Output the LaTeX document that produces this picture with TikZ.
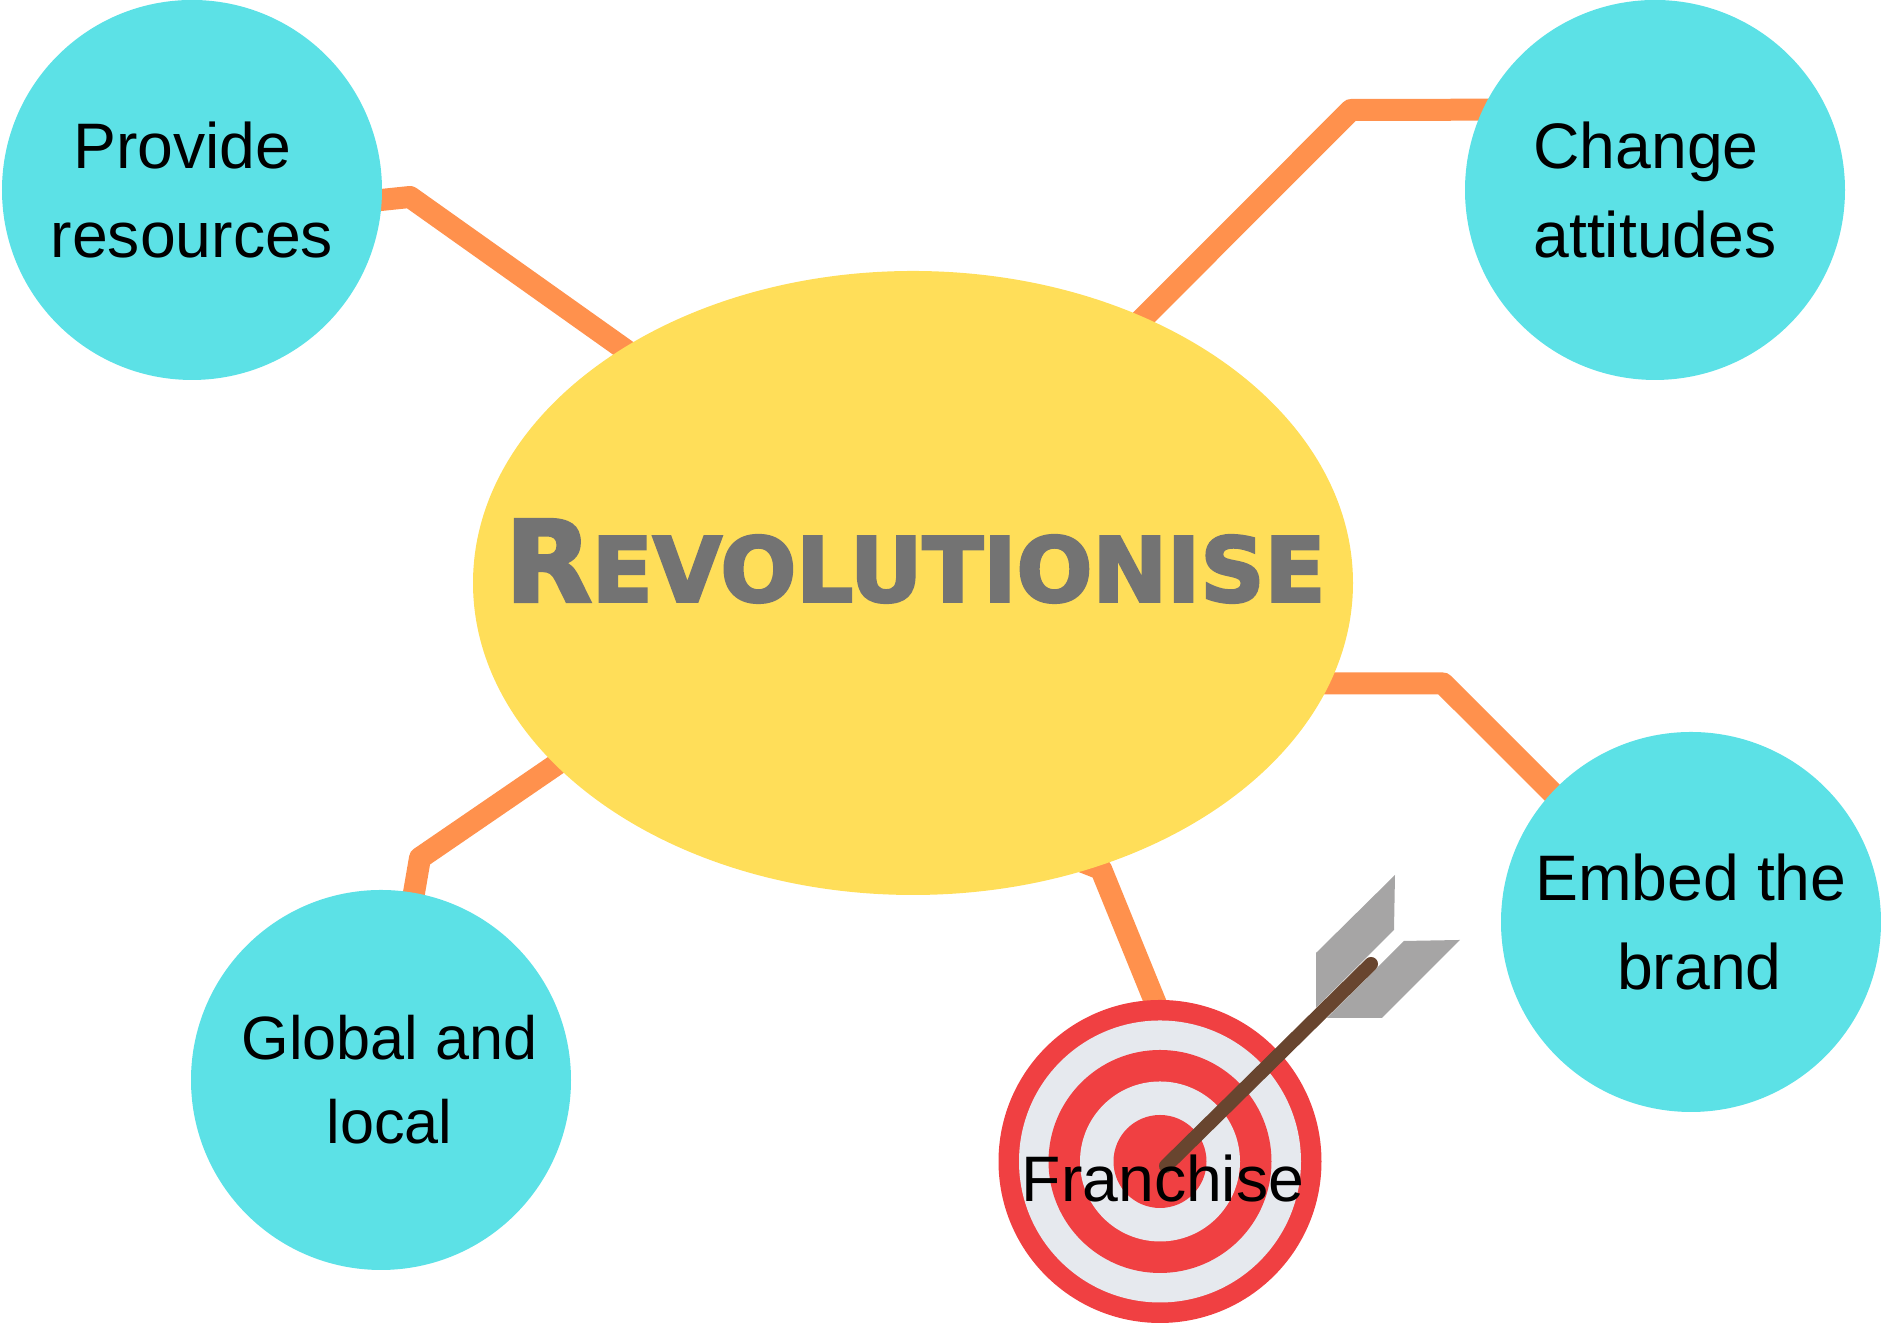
\documentclass[tikz,border=0pt]{standalone}
\usepackage{fontspec}
\setmainfont{Liberation Sans}
\newfontfamily\hubfont[BoldFeatures={FakeBold=3}]{DejaVu Sans}
\usetikzlibrary{backgrounds,shapes.geometric}
\definecolor{bubblecyan}{HTML}{5CE1E6}
\definecolor{hubyellow}{HTML}{FFDE59}
\definecolor{linkorange}{HTML}{FF914D}
\definecolor{ringred}{HTML}{F04042}
\definecolor{ringpale}{HTML}{E6E9EE}
\definecolor{fletchgrey}{HTML}{A6A5A5}
\definecolor{shaftbrown}{HTML}{68452F}
\definecolor{hubgrey}{HTML}{737373}

\begin{document}
\begin{tikzpicture}
	\tikzstyle{bubble}=[circle,fill=bubblecyan,minimum size=3.8cm,inner sep=0pt,outer sep=0pt,align=center,font=\fontsize{18.3}{25.3}\selectfont]
	\tikzstyle{hub}=[ellipse,fill=hubyellow,minimum width=8.8cm,minimum height=6.24cm,inner sep=0pt,outer sep=0pt,text=hubgrey,font=\hubfont\bfseries]
	\tikzstyle{link}=[line width=0.22cm,linkorange,line join=round,shorten <=-6pt,shorten >=-6pt]
	\tikzstyle{ring}=[circle,inner sep=0pt,outer sep=0pt]
	\tikzstyle{fletch}=[fill=fletchgrey]
	\useasboundingbox (0,0) rectangle (18.81,13.23);
	\node (provide) at (1.92,11.33) [bubble] {Provide\hspace*{5.4pt}\\resources};
	\node (change)  at (16.55,11.33) [bubble,align=left] {Change\\attitudes};
	\node (embed)   at (16.91,4.01) [bubble] {Embed the\\\hspace*{4.8pt}brand};
	\node (global)  at (3.81,2.43) [bubble,font=\fontsize{17.4}{25.3}\selectfont] {\hspace*{4.8pt}Global and\\[-1.4pt]\hspace*{4.8pt}local};
	\node (hub)     at (9.13,7.40) [hub] {\makebox[0pt]{\hspace*{1.4pt}\rule[-12.8pt]{0pt}{1pt}\fontsize{32}{32}\selectfont R\fontsize{25.4}{32}\selectfont EVOLUTIONISE}};
	\node (target)  at (11.60,1.615) [ring,fill=ringred,minimum size=3.23cm] {};
	\node (ring1)   at (target) [ring,fill=ringpale,minimum size=2.82cm] {};
	\node (ring2)   at (target) [ring,fill=ringred,minimum size=2.23cm] {};
	\node (ring3)   at (target) [ring,fill=ringpale,minimum size=1.60cm] {};
	\node (ring4)   at (target) [ring,fill=ringred,minimum size=0.93cm] {};
	\coordinate (bendprovide) at (4.10,11.26);
	\coordinate (bendchange)  at (13.51,12.13);
	\coordinate (bendembed)   at (14.43,6.395);
	\coordinate (bendglobal)  at (4.20,4.65);
	\coordinate (bendtarget)  at (11.01,4.54);
	\coordinate (hubembed)    at (13.10,6.395);
	\coordinate (hubtarget)   at (10.64,4.685);
	\coordinate (nock)        at (13.71,3.59);
	\coordinate (tip)         at (11.66,1.57);
	\begin{pgfonlayer}{background}
		\draw [link] (provide.-3.3) -- (bendprovide) -- (hub.141);
		\draw [link] (change.155.1) -- (bendchange) -- (hub.49);
		\draw [link] (embed.137.1) -- (bendembed) -- (hubembed);
		\draw [link] (global.80) -- (bendglobal) -- (hub.207);
		\draw [link] (target.92) -- (bendtarget) -- (hubtarget);
	\end{pgfonlayer}
	\fill [fletch] (13.95,4.48) -- (13.94,3.93) -- (13.16,3.15) -- (13.16,3.70) -- cycle;
	\fill [fletch] (14.60,3.83) -- (14.04,3.82) -- (13.27,3.05) -- (13.82,3.05) -- cycle;
	\draw [shaftbrown,line width=0.14cm,line cap=round] (tip) -- (nock);
	\node (franchise) at (11.63,1.21) [anchor=base,inner sep=0pt,font=\fontsize{18.3}{25.3}\selectfont] {Franchise};
\end{tikzpicture}
\end{document}
